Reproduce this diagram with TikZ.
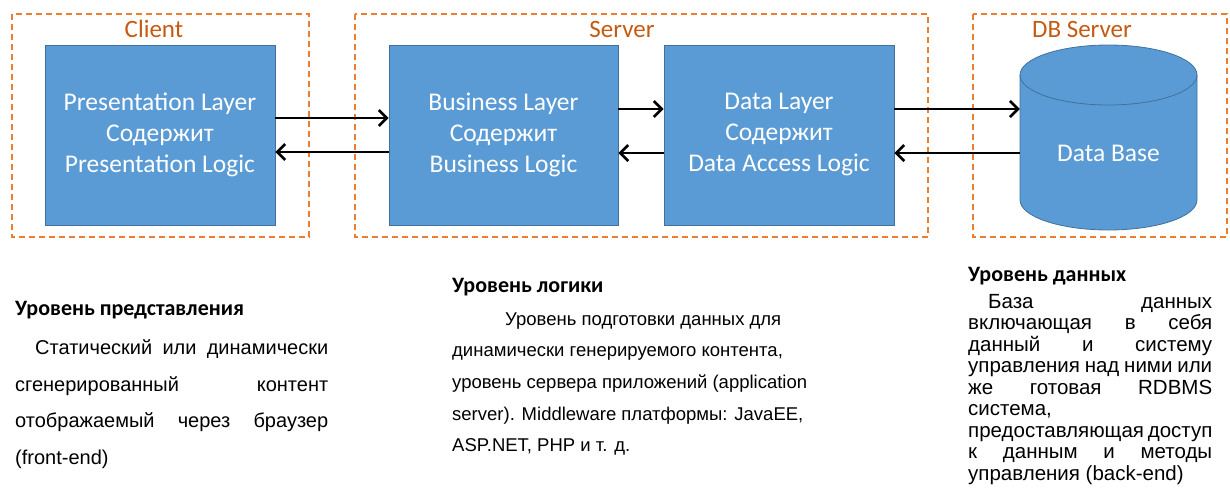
\documentclass[tikz,border=0pt]{standalone}
\usepackage{fontspec}
\setmainfont{Liberation Sans}
\newfontfamily\calfont{Carlito}
\usetikzlibrary{arrows.meta}
\definecolor{boxfill}{HTML}{5B9BD5}
\definecolor{boxline}{HTML}{41719C}
\definecolor{dashorange}{HTML}{ED7D31}
\definecolor{labelorange}{HTML}{C55A11}
\tikzset{
  layerbox/.style={draw=boxline, line width=0.8pt, fill=boxfill, inner sep=0pt,
    minimum height=180pt, text=white, align=center,
    font=\calfont\fontsize{25.5}{31}\selectfont},
  zonebox/.style={draw=dashorange, line width=1.2pt, dash pattern=on 6pt off 4pt},
  zonelabel/.style={anchor=base, inner sep=0pt, text=labelorange,
    font=\calfont\fontsize{25}{30}\selectfont},
  arr/.style={line width=2.6pt, -{Straight Barb[length=8pt,width=16pt]}},
  heading/.style={anchor=base west, inner sep=0pt,
    font=\calfont\bfseries\fontsize{22}{26}\selectfont},
  bodytext/.style={anchor=base west, inner sep=0pt}
}
\newcommand{\jline}[2]{\makebox[#1][s]{#2}}
\begin{document}
\begin{tikzpicture}[x=1pt,y=-1pt]
\useasboundingbox (0,0) rectangle (1230,488);
% zones
\draw[zonebox] (12,14) rectangle (309,237);
\draw[zonebox] (355,14) rectangle (928,237);
\draw[zonebox] (973,14) rectangle (1227,237);
\node[zonelabel] (lclient) at (154,37) {Client};
\node[zonelabel] (lserver) at (622,37) {Server};
\node[zonelabel] (ldb) at (1082,37) {DB Server};
% layer boxes
\node[layerbox, minimum width=230pt] (pl) at (160,135) {Presentation Layer\\Содержит\\Presentation Logic};
\node[layerbox, minimum width=229pt] (bl) at (503.5,135) {Business Layer\\Содержит\\Business Logic};
\node[layerbox, minimum width=230pt] (dl) at (779,135) {Data Layer\\Содержит\\Data Access Logic};
% cylinder
\fill[boxfill] (1020,75) -- (1020,200) arc[start angle=180,end angle=360,x radius=88.5pt,y radius=30pt] -- (1197,75) arc[start angle=0,end angle=180,x radius=88.5pt,y radius=30pt] -- cycle;
\draw[boxline, line width=0.8pt] (1020,75) -- (1020,200) arc[start angle=180,end angle=360,x radius=88.5pt,y radius=30pt] -- (1197,75);
\draw[boxline, line width=0.8pt] (1108.5,75) ellipse[x radius=88.5pt,y radius=30pt];
\node[inner sep=0pt, minimum width=177pt, minimum height=150pt, text=white,
  font=\calfont\fontsize{25.5}{31}\selectfont] (db) at (1108.5,153) {Data Base};
% connectors
\draw[arr] (pl.east |- 0,118) -- (bl.west |- 0,118);
\draw[arr] (bl.west |- 0,152) -- (pl.east |- 0,152);
\draw[arr] (bl.east |- 0,109) -- (dl.west |- 0,109);
\draw[arr] (dl.west |- 0,153) -- (bl.east |- 0,153);
\draw[arr] (dl.east |- 0,109) -- (db.west |- 0,109);
\draw[arr] (db.west |- 0,153) -- (dl.east |- 0,153);
% texts
\node[heading] (h1) at (15,315) {Уровень представления};
\node[bodytext] (t1) at (15,354.5) {\parbox[t]{313pt}{\fontsize{20}{36.7}\selectfont
\hspace*{20pt}\jline{293pt}{Статический или динамически}\\
\jline{313pt}{сгенерированный контент}\\
\jline{313pt}{отображаемый через браузер}\\
(front-end)}};
\node[heading] (h2) at (452,292) {Уровень логики};
\node[bodytext] (t2) at (452,325) {\parbox[t]{360pt}{\raggedright\fontsize{18.5}{31.7}\selectfont
\hspace*{53pt}Уровень подготовки данных для\\
динамически генерируемого контента,\\
уровень сервера приложений (application\\
server). Middleware платформы: JavaEE,\\
ASP.NET, PHP и т. д.}};
\node[heading] (h3) at (968,281) {Уровень данных};
\node[bodytext] (t3) at (968,308) {\parbox[t]{244pt}{\fontsize{20.5}{21.5}\selectfont
\hspace*{20pt}\jline{224pt}{База данных}\\
\jline{244pt}{включающая в себя}\\
\jline{244pt}{данный и систему}\\
\jline{244pt}{управления над ними или}\\
\jline{244pt}{же готовая RDBMS}\\
система,\\
\jline{244pt}{предоставляющая доступ}\\
\jline{244pt}{к данным и методы}\\
управления (back-end)}};
\end{tikzpicture}
\end{document}
